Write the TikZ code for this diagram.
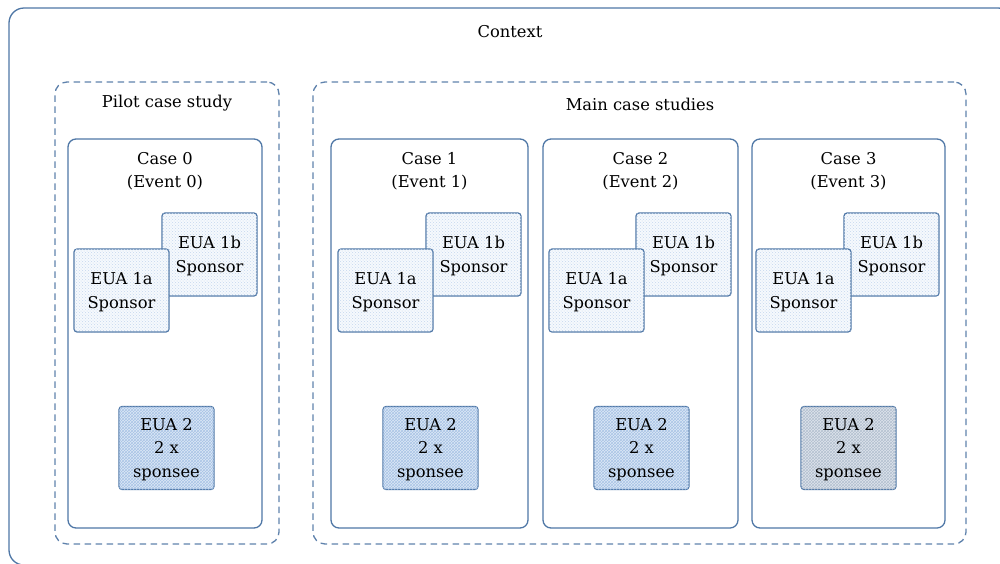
\documentclass[tikz,border=0pt]{standalone}
\usepackage{fontspec}
\setmainfont{DejaVu Serif}
\usetikzlibrary{patterns}

\definecolor{edge}{HTML}{4F77A6}
\definecolor{dashedge}{HTML}{5F82AC}
\definecolor{sponsorfill}{HTML}{F6F9FD}
\definecolor{sponsordot}{HTML}{C4D7EE}
\definecolor{sponseefill}{HTML}{DCE8F6}
\definecolor{sponseehatch}{HTML}{A9C4E6}
\definecolor{greyfill}{HTML}{DEE4EC}
\definecolor{greyhatch}{HTML}{B3C0D0}

\tikzset{
  txt/.style={font=\fontsize{16.3}{23.5}\selectfont, align=center, text=black, inner sep=0pt},
  ctxbox/.style={draw=edge, line width=1.3pt, rounded corners=15pt, inner sep=0pt},
  groupbox/.style={draw=dashedge, line width=1.3pt, dashed, dash pattern=on 6.5pt off 4.5pt, rounded corners=12pt, inner sep=0pt, minimum height=462pt},
  casebox/.style={draw=edge, line width=1.3pt, rounded corners=8pt, inner sep=0pt, minimum height=389pt},
  euabox/.style={draw=edge, line width=1.2pt, rounded corners=3pt, minimum width=95pt, minimum height=83pt, inner sep=0pt},
  % box text sits slightly below the box centre
  euatext/.style={label={[txt, yshift=-1.5pt]center:#1}},
  sponsor/.style={euabox, fill=sponsorfill, postaction={pattern=crosshatch dots, pattern color=sponsordot}, euatext={#1}},
  sponsee/.style={euabox, fill=sponseefill, postaction={pattern=crosshatch, pattern color=sponseehatch}, euatext={#1}},
  sponseegrey/.style={euabox, fill=greyfill, postaction={pattern=crosshatch, pattern color=greyhatch}, euatext={#1}},
}

\begin{document}
\begin{tikzpicture}[x=1pt, y=-1pt]
  \useasboundingbox (0,0) rectangle (1000,563);
  \begin{scope}
    \clip (0,0) rectangle (1000,563);

    % outer context frame, running past the page edges
    \node[ctxbox, minimum width=1004pt, minimum height=557pt] (context) at (511,286.5) {};
    \node[txt] (contextlabel) at (510,32) {Context};

    % pilot and main groups
    \node[groupbox, minimum width=224pt] (pilot) at (167,313) {};
    \node[txt] (pilotlabel) at (167,103) {Pilot case study};
    \node[groupbox, minimum width=653pt] (main) at (639.5,313) {};
    \node[txt] (mainlabel) at (640,104) {Main case studies};

    % cases: name/left edge/width/1a offset/1b offset/EUA2 offset/grey
    \foreach \n/\l/\w/\oa/\ob/\oc/\g in {0/68/194/6/94/51/0, 1/331/197/7/95/52/0, 2/543/195/6/93/51/0, 3/752/193/4/92/49/1}{
      \node[casebox, minimum width=\w pt] (case\n) at ({\l+\w/2},333.5) {};
      \node[txt] (case\n label) at ({\l+\w/2},171) {Case \n\\(Event \n)};
      \node[sponsor={EUA 1b\\Sponsor}] (eua1b\n) at ({\l+\ob+47.5},254.5) {};
      \node[sponsor={EUA 1a\\Sponsor}] (eua1a\n) at ({\l+\oa+47.5},290.5) {};
      \ifnum\g=1
        \node[sponseegrey={EUA 2\\2 x\\sponsee}] (eua2\n) at ({\l+\oc+47.5},448) {};
      \else
        \node[sponsee={EUA 2\\2 x\\sponsee}] (eua2\n) at ({\l+\oc+47.5},448) {};
      \fi
    }
  \end{scope}
\end{tikzpicture}
\end{document}
